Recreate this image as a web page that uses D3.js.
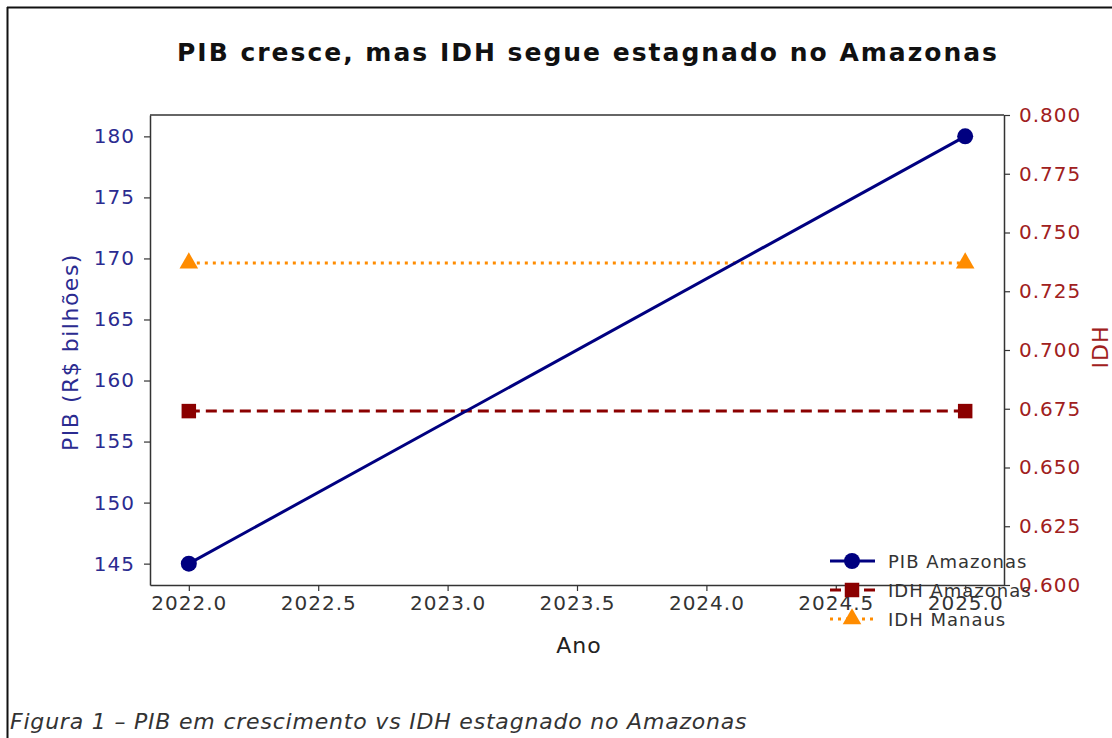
<!DOCTYPE html>
<html>
<head>
<meta charset="utf-8">
<script src="https://cdn.jsdelivr.net/npm/d3@7"></script>
<style>
  body { margin: 0; background: white; }
  svg text { font-family: "DejaVu Sans", Verdana, sans-serif; }
</style>
</head>
<body>
<div id="chart"></div>
<script>
'use strict';

const Color = {
  Pib: `#000080`,
  Idh: `#8b0000`,
  Manaus: `#ff8c00`,
  Axis: `#333333`,
  Text: `#222222`,
}

// data
const years = [2022, 2025];
const pibAmazonas = [145, 180];
const idhAmazonas = [0.674, 0.674];
const idhManaus = [0.737, 0.737];
const xTicks = [2022.0, 2022.5, 2023.0, 2023.5, 2024.0, 2024.5, 2025.0];
const pibTicks = [145, 150, 155, 160, 165, 170, 175, 180];
const idhTicks = [0.600, 0.625, 0.650, 0.675, 0.700, 0.725, 0.750, 0.775, 0.800];
const seriesNames = [`PIB Amazonas`, `IDH Amazonas`, `IDH Manaus`];

const W = 1112, H = 738;
const margin = {top: 115, right: 1112 - 1004, bottom: 738 - 585, left: 150},
    width = W - margin.left - margin.right,
    height = H - margin.top - margin.bottom;

const root = d3.select("#chart")
  .append("svg")
    .attr("width", W)
    .attr("height", H);

// frame of the screenshot (only top and left edges show)
root.append("line")
  .attr("x1", 7).attr("x2", W).attr("y1", 7.5).attr("y2", 7.5)
  .attr("stroke", "#111").attr("stroke-width", 2);
root.append("line")
  .attr("x1", 7.5).attr("x2", 7.5).attr("y1", 7).attr("y2", H)
  .attr("stroke", "#111").attr("stroke-width", 2);

const svg = root.append("g")
  .attr("transform", `translate(${margin.left}, ${margin.top})`);

// matplotlib style 5% padding on x and left y
const pad = (lo, hi) => [lo - (hi - lo) * 0.05, hi + (hi - lo) * 0.05];

const x = d3.scaleLinear()
  .domain(pad(d3.min(years), d3.max(years)))
  .range([0, width]);

const yPib = d3.scaleLinear()
  .domain(pad(d3.min(pibAmazonas), d3.max(pibAmazonas)))
  .range([height, 0]);

const yIdh = d3.scaleLinear()
  .domain([0.6, 0.8])
  .range([height, 0]);

const tickFont = 20;

// Axes
const styleAxis = (g, color) => {
  g.select(".domain").attr("stroke", Color.Axis).attr("stroke-width", 1.5);
  g.selectAll(".tick line").attr("stroke", Color.Axis).attr("stroke-width", 1.2);
  g.selectAll(".tick text")
    .attr("fill", color)
    .style("font-size", `${tickFont}px`)
    .style("letter-spacing", "1px")
    .style("font-family", `"DejaVu Sans", sans-serif`);
}

svg.append("g")
  .attr("transform", `translate(0,${height})`)
  .call(d3.axisBottom(x).tickValues(xTicks).tickFormat(d3.format(".1f")).tickSize(6).tickPadding(5).tickSizeOuter(0))
  .call(g => styleAxis(g, "#333"));

svg.append("g")
  .call(d3.axisLeft(yPib).tickValues(pibTicks).tickSize(6).tickPadding(9).tickSizeOuter(0))
  .call(g => styleAxis(g, "#2b2b90"));

svg.append("g")
  .attr("transform", `translate(${width},0)`)
  .call(d3.axisRight(yIdh).tickValues(idhTicks).tickFormat(d3.format(".3f")).tickSize(6).tickPadding(9).tickSizeOuter(0))
  .call(g => styleAxis(g, "#a02020"));

// top spine
svg.append("line")
  .attr("x1", 0).attr("x2", width).attr("y1", 0).attr("y2", 0)
  .attr("stroke", Color.Axis).attr("stroke-width", 1.5);

// Lines
const pibData = years.map((d, i) => ({x: d, y: pibAmazonas[i]}));
const idhAmData = years.map((d, i) => ({x: d, y: idhAmazonas[i]}));
const idhMaData = years.map((d, i) => ({x: d, y: idhManaus[i]}));

svg.append("path")
  .datum(idhMaData)
  .attr("fill", "none")
  .attr("stroke", Color.Manaus)
  .attr("stroke-width", 3)
  .attr("stroke-dasharray", "3,5")
  .attr("d", d3.line().x(d => x(d.x)).y(d => yIdh(d.y)));

svg.append("path")
  .datum(idhAmData)
  .attr("fill", "none")
  .attr("stroke", Color.Idh)
  .attr("stroke-width", 3)
  .attr("stroke-dasharray", "11,6")
  .attr("d", d3.line().x(d => x(d.x)).y(d => yIdh(d.y)));

svg.append("path")
  .datum(pibData)
  .attr("fill", "none")
  .attr("stroke", Color.Pib)
  .attr("stroke-width", 3)
  .attr("d", d3.line().x(d => x(d.x)).y(d => yPib(d.y)));

// Markers
const tri = d3.symbol().type(d3.symbolTriangle).size(150);
const sq = d3.symbol().type(d3.symbolSquare).size(210);

svg.selectAll("manausMarks")
  .data(idhMaData)
  .enter()
  .append("path")
    .attr("d", tri)
    .attr("transform", d => `translate(${x(d.x)},${yIdh(d.y)})`)
    .attr("fill", Color.Manaus);

svg.selectAll("idhMarks")
  .data(idhAmData)
  .enter()
  .append("path")
    .attr("d", sq)
    .attr("transform", d => `translate(${x(d.x)},${yIdh(d.y)})`)
    .attr("fill", Color.Idh);

svg.selectAll("pibMarks")
  .data(pibData)
  .enter()
  .append("circle")
    .attr("cx", d => x(d.x))
    .attr("cy", d => yPib(d.y))
    .attr("r", 8)
    .attr("fill", Color.Pib);

// Axis labels
root.append("text")
  .attr("x", margin.left + width / 2 + 2)
  .attr("y", 653)
  .attr("text-anchor", "middle")
  .attr("fill", "#222")
  .style("font-size", "22px")
  .style("letter-spacing", "1px")
  .text("Ano");

root.append("text")
  .attr("transform", `translate(78,${margin.top + height / 2 + 2}) rotate(-90)`)
  .attr("text-anchor", "middle")
  .attr("fill", "#2b2b90")
  .style("font-size", "22px")
  .style("letter-spacing", "1.5px")
  .text("PIB (R$ bilhões)");

root.append("text")
  .attr("transform", `translate(1108,${margin.top + height / 2 - 3}) rotate(-90)`)
  .attr("text-anchor", "middle")
  .attr("fill", "#a02020")
  .style("font-size", "22px")
  .style("letter-spacing", "1px")
  .text("IDH");

// Title
root.append("text")
  .attr("x", 588)
  .attr("y", 61)
  .attr("text-anchor", "middle")
  .attr("fill", "#111")
  .style("font-size", "25px")
  .style("font-weight", "bold")
  .style("letter-spacing", "2px")
  .text("PIB cresce, mas IDH segue estagnado no Amazonas");

// Legend (no frame, lower right, spills past the axes)
const legend = root.append("g").attr("transform", "translate(830,561)");
const legendStyles = [
  {color: Color.Pib, dash: null, mark: "circle"},
  {color: Color.Idh, dash: "11,6", mark: "square"},
  {color: Color.Manaus, dash: "3,5", mark: "triangle"},
];
seriesNames.forEach((name, i) => {
  const s = legendStyles[i];
  const row = legend.append("g").attr("transform", `translate(0,${i * 29})`);
  row.append("line")
    .attr("x1", 0).attr("x2", 45).attr("y1", 0).attr("y2", 0)
    .attr("stroke", s.color).attr("stroke-width", 3)
    .attr("stroke-dasharray", s.dash);
  if (s.mark === "circle") {
    row.append("circle").attr("cx", 22).attr("cy", 0).attr("r", 8).attr("fill", s.color);
  } else {
    row.append("path")
      .attr("d", s.mark === "square" ? sq : tri)
      .attr("transform", "translate(22,0)")
      .attr("fill", s.color);
  }
  row.append("text")
    .attr("x", 58).attr("y", 7)
    .attr("fill", "#333")
    .style("font-size", "18px")
    .style("letter-spacing", "1px")
    .text(name);
});

// Caption
root.append("text")
  .attr("x", 10)
  .attr("y", 729)
  .attr("fill", "#333")
  .style("font-size", "22px")
  .style("font-style", "italic")
  .style("letter-spacing", "0.8px")
  .text("Figura 1 – PIB em crescimento vs IDH estagnado no Amazonas");
</script>
</body>
</html>
